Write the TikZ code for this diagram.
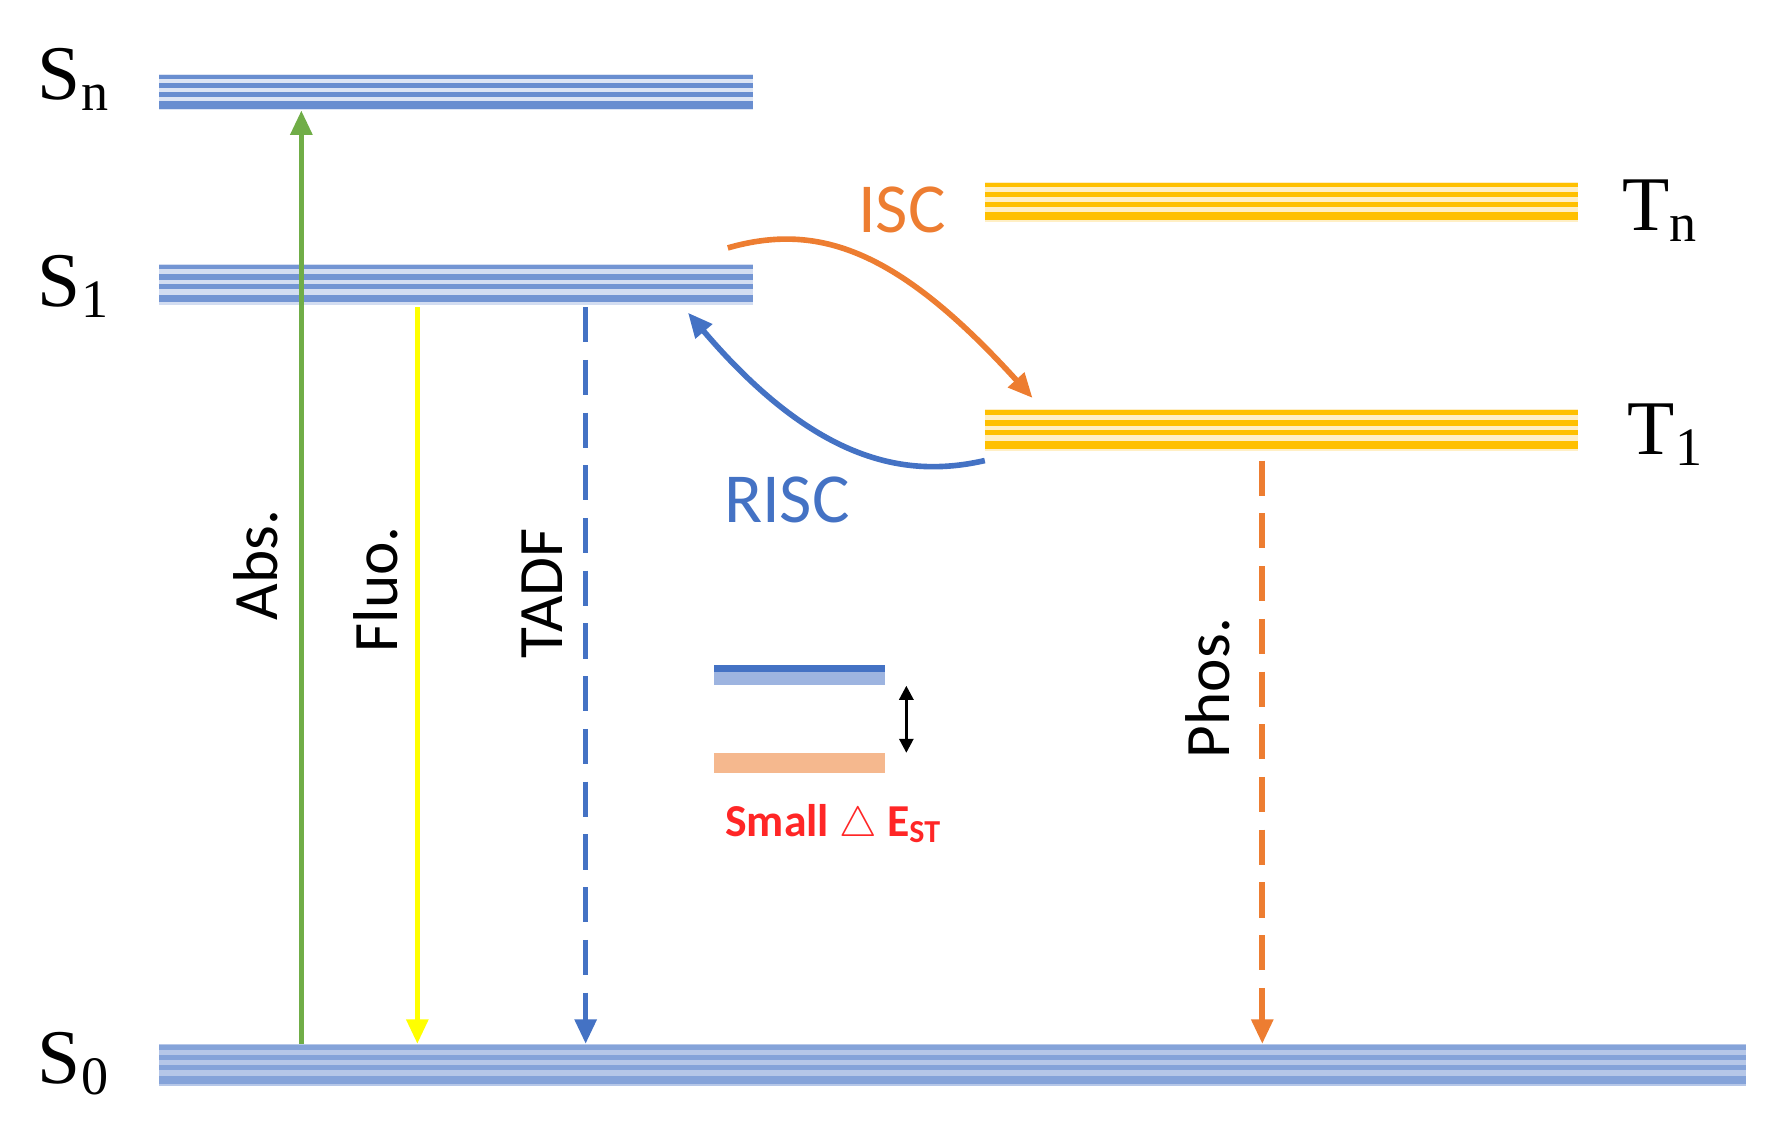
\documentclass[tikz,border=0pt]{standalone}
\usepackage{fontspec}
\setmainfont{Liberation Serif}
\newfontfamily\carl{Carlito}
\usetikzlibrary{arrows.meta}
\definecolor{bl}{HTML}{4472C4}
\definecolor{blL}{HTML}{9DB4E0}
\definecolor{yo}{HTML}{FFC000}
\definecolor{yoL}{HTML}{FFE08A}
\definecolor{og}{HTML}{ED7D31}
\definecolor{gr}{HTML}{70AD47}
\definecolor{yl}{HTML}{FFFF00}
\tikzset{
 lvl/.style={font=\fontsize{22}{24}\selectfont},
 lab/.style={font=\carl\fontsize{18}{20}\selectfont, rotate=90},
 arr/.style={line width=1.6pt, -{Triangle[length=7pt,width=6pt]}},
}
\newcommand{\stripes}[6]{% x1 x2 y1 y2 dark light
 \fill[#6] (#1,#3) rectangle (#2,#4);
 \foreach \f/\w in {0.08/1.3,0.32/1.6,0.56/1.4,0.85/2.2}{
   \draw[#5,line width=\w pt] (#1,{#3+\f*(#4-#3)}) -- (#2,{#3+\f*(#4-#3)});}
}
\begin{document}
\begin{tikzpicture}[x=0.01137cm,y=-0.01137cm]
\useasboundingbox (0,0) rectangle (1560,986);
\stripes{140}{662}{65}{97}{bl!80}{blL!35}
\stripes{140}{662}{232}{268}{bl!75}{blL!45}
\stripes{140}{1535}{918}{955}{bl!65}{blL!75}
\stripes{866}{1388}{160}{195}{yo}{yoL!50}
\stripes{866}{1388}{360}{397}{yo}{yoL!50}
\node[lvl] (sn) at (65,70) {S\textsubscript{n}};
\node[lvl] (s1) at (65,252) {S\textsubscript{1}};
\node[lvl] (s0) at (65,935) {S\textsubscript{0}};
\node[lvl] (tn) at (1460,185) {T\textsubscript{n}};
\node[lvl] (t1) at (1465,382) {T\textsubscript{1}};
\coordinate (a0) at (265,918); \coordinate (a1) at (265,97);
\coordinate (f0) at (367,270); \coordinate (f1) at (367,918);
\coordinate (t0) at (515,270); \coordinate (tt) at (515,918);
\coordinate (p0) at (1110,405); \coordinate (p1) at (1110,918);
\draw[arr,gr] (a0) -- (a1);
\draw[arr,yl] (f0) -- (f1);
\draw[arr,bl,dashed,dash pattern=on 10pt off 5pt] (t0) -- (tt);
\draw[arr,og,dashed,dash pattern=on 10pt off 5pt] (p0) -- (p1);
\node[lab] (labs) at (225,497) {Abs.};
\node[lab] (lfl) at (330,518) {Fluo.};
\node[lab] (ltadf) at (477,522) {TADF};
\node[lab] (lph) at (1062,605) {Phos.};
\coordinate (i0) at (640,218); \coordinate (i1) at (908,350);
\draw[arr,og] (i0) .. controls (720,195) and (790,220) .. (i1);
\node[font=\carl\fontsize{20}{22}\selectfont,text=og] (isc) at (793,185) {ISC};
\coordinate (r0) at (866,405); \coordinate (r1) at (605,275);
\draw[arr,bl] (r0) .. controls (800,420) and (720,410) .. (r1);
\node[font=\carl\fontsize{20}{22}\selectfont,text=bl] (risc) at (692,440) {RISC};
\fill[blL] (628,585) rectangle (778,602);
\draw[bl,line width=2pt] (628,588) -- (778,588);
\fill[og!55] (628,662) rectangle (778,680);
\coordinate (d0) at (797,603); \coordinate (d1) at (797,662);
\draw[line width=0.8pt,{Triangle[length=4pt,width=4pt]}-{Triangle[length=4pt,width=4pt]}] (d0) -- (d1);
\node[font=\carl\bfseries\fontsize{13}{15}\selectfont,text=red!85] (small) at (733,725) {Small $\triangle$ E\textsubscript{ST}};
\end{tikzpicture}
\end{document}
